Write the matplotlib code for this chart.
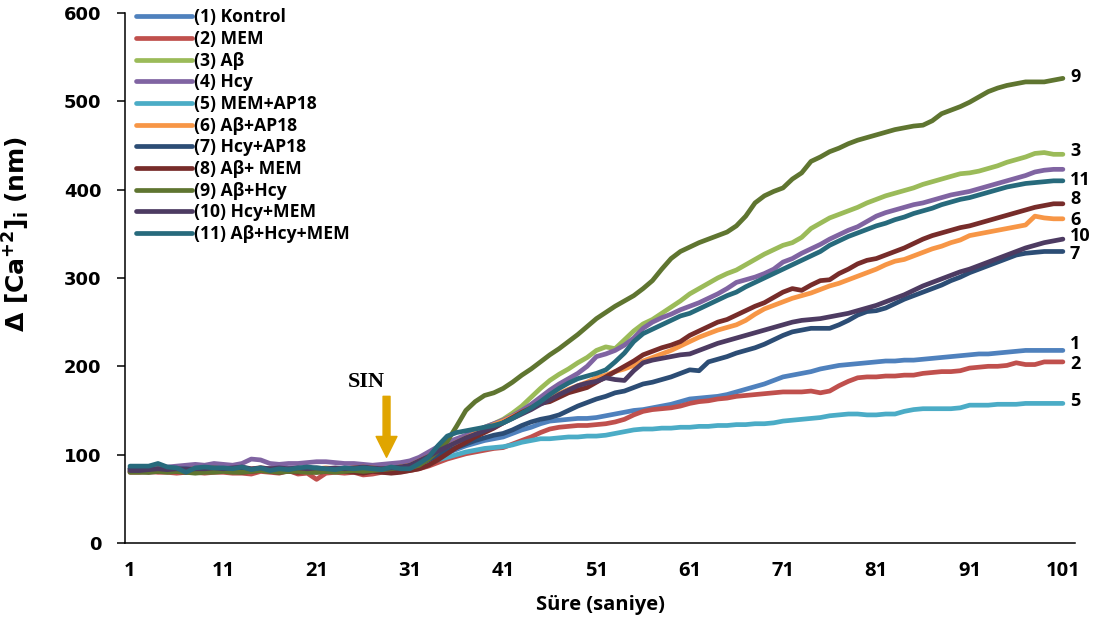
import numpy as np
import matplotlib
matplotlib.use('Agg')
import matplotlib.pyplot as plt

# time points (saniye), 1..101
x = np.arange(1, 102)

s1 = [84, 84, 84, 85, 84, 83, 84, 83, 84, 84,
      83, 84, 84, 83, 85, 84, 83, 84, 84, 83,
      84, 83, 84, 84, 85, 84, 83, 84, 85, 84,
      86, 88, 92, 97, 102, 106, 110, 113, 116, 118,
      120, 124, 128, 131, 135, 138, 139, 140, 141, 141,
      142, 144, 146, 148, 150, 151, 153, 155, 157, 160,
      163, 164, 165, 166, 168, 171, 174, 177, 180, 184,
      188, 190, 192, 194, 197, 199, 201, 202, 203, 204,
      205, 206, 206, 207, 207, 208, 209, 210, 211, 212,
      213, 214, 214, 215, 216, 217, 218, 218, 218, 218,
      218]
s2 = [80, 80, 81, 80, 80, 79, 80, 80, 79, 80,
      80, 79, 79, 78, 81, 80, 79, 82, 78, 79,
      72, 79, 80, 79, 80, 77, 78, 80, 80, 81,
      82, 84, 87, 91, 95, 98, 101, 103, 105, 107,
      108, 112, 116, 120, 125, 129, 131, 132, 133, 133,
      134, 135, 137, 140, 145, 149, 151, 152, 153, 155,
      158, 160, 161, 163, 164, 166, 167, 168, 169, 170,
      171, 171, 171, 172, 170, 172, 178, 183, 187, 188,
      188, 189, 189, 190, 190, 192, 193, 194, 194, 195,
      198, 199, 200, 200, 201, 204, 202, 202, 205, 205,
      205]
s3 = [82, 81, 82, 82, 81, 82, 81, 82, 81, 82,
      82, 81, 82, 83, 82, 81, 82, 83, 82, 82,
      82, 81, 82, 83, 82, 81, 82, 83, 84, 85,
      86, 89, 94, 100, 107, 114, 120, 126, 131, 135,
      140, 147, 155, 165, 175, 184, 191, 197, 204, 210,
      218, 222, 220, 230, 240, 248, 253, 260, 267, 274,
      282, 288, 294, 300, 305, 309, 315, 321, 327, 332,
      337, 340, 346, 356, 362, 368, 372, 376, 380, 385,
      389, 393, 396, 399, 402, 406, 409, 412, 415, 418,
      419, 421, 424, 427, 431, 434, 437, 441, 442, 440,
      440]
s4 = [85, 85, 85, 86, 86, 87, 88, 89, 88, 90,
      89, 88, 90, 95, 94, 90, 89, 90, 90, 91,
      92, 92, 91, 90, 90, 89, 88, 89, 90, 91,
      93, 97, 103, 109, 114, 118, 122, 127, 131, 135,
      139, 144, 150, 157, 165, 173, 180, 186, 192, 200,
      211, 214, 218, 224, 232, 243, 250, 255, 259, 264,
      268, 272, 277, 282, 288, 295, 298, 301, 305, 310,
      318, 322, 328, 333, 338, 344, 349, 354, 358, 364,
      370, 374, 377, 380, 383, 385, 388, 391, 394, 396,
      398, 401, 404, 407, 410, 413, 416, 420, 422, 423,
      423]
s5 = [83, 83, 83, 84, 83, 82, 83, 82, 83, 83,
      82, 82, 82, 82, 83, 82, 82, 82, 81, 82,
      82, 82, 83, 82, 82, 83, 82, 83, 84, 84,
      86, 88, 91, 94, 97, 100, 103, 105, 107, 108,
      109, 111, 114, 116, 118, 118, 119, 120, 120, 121,
      121, 122, 124, 126, 128, 129, 129, 130, 130, 131,
      131, 132, 132, 133, 133, 134, 134, 135, 135, 136,
      138, 139, 140, 141, 142, 144, 145, 146, 146, 145,
      145, 146, 146, 149, 151, 152, 152, 152, 152, 153,
      156, 156, 156, 157, 157, 157, 158, 158, 158, 158,
      158]
s6 = [84, 84, 83, 84, 85, 84, 83, 84, 84, 85,
      84, 83, 84, 84, 85, 84, 84, 83, 84, 84,
      84, 85, 84, 84, 85, 86, 85, 84, 85, 86,
      88, 93, 98, 104, 109, 114, 119, 124, 129, 134,
      138, 143, 148, 153, 158, 164, 169, 174, 178, 182,
      187, 190, 194, 197, 201, 206, 210, 214, 218, 223,
      228, 233, 237, 241, 244, 247, 252, 259, 265, 269,
      273, 277, 280, 283, 287, 291, 294, 298, 302, 306,
      310, 315, 319, 321, 325, 329, 333, 336, 340, 343,
      348, 350, 352, 354, 356, 358, 360, 370, 368, 367,
      367]
s7 = [84, 84, 83, 84, 83, 84, 84, 83, 84, 84,
      83, 84, 84, 83, 84, 84, 83, 84, 83, 84,
      84, 83, 84, 83, 84, 84, 83, 84, 84, 83,
      85, 89, 94, 99, 104, 108, 112, 116, 119, 122,
      124, 128, 133, 137, 140, 142, 145, 150, 155, 159,
      163, 166, 170, 172, 176, 180, 182, 185, 188, 192,
      196, 195, 205, 208, 211, 215, 218, 221, 225, 230,
      235, 239, 241, 243, 243, 243, 247, 252, 258, 262,
      263, 266, 271, 276, 280, 284, 288, 292, 297, 301,
      306, 310, 314, 318, 322, 326, 328, 329, 330, 330,
      330]
s8 = [81, 81, 80, 81, 82, 81, 80, 81, 82, 81,
      82, 81, 80, 81, 82, 81, 80, 81, 80, 81,
      80, 81, 82, 81, 80, 79, 81, 80, 79, 80,
      82, 84, 88, 94, 101, 108, 114, 120, 125, 130,
      136, 142, 148, 153, 158, 160, 165, 170, 173, 176,
      182, 188, 194, 200, 206, 213, 217, 221, 224, 228,
      235, 240, 245, 250, 253, 258, 263, 268, 272, 278,
      284, 288, 286, 292, 297, 298, 305, 310, 316, 320,
      322, 326, 330, 334, 339, 344, 348, 351, 354, 357,
      359, 362, 365, 368, 371, 374, 377, 380, 382, 384,
      384]
s9 = [80, 80, 80, 81, 80, 81, 80, 79, 80, 80,
      81, 80, 80, 81, 82, 81, 80, 81, 81, 80,
      80, 81, 80, 81, 82, 81, 82, 83, 84, 86,
      85, 88, 95, 104, 115, 132, 150, 160, 167, 170,
      175, 182, 190, 197, 205, 213, 220, 228, 236, 245,
      254, 261, 268, 274, 280, 288, 297, 310, 322, 330,
      335, 340, 344, 348, 352, 359, 370, 385, 393, 398,
      402, 412, 419, 432, 437, 443, 447, 452, 456, 459,
      462, 465, 468, 470, 472, 473, 478, 486, 490, 494,
      499, 505, 511, 515, 518, 520, 522, 522, 522, 524,
      526]
s10 = [82, 82, 83, 84, 83, 84, 83, 84, 84, 85,
       84, 85, 86, 84, 85, 84, 85, 84, 85, 84,
       85, 84, 85, 84, 85, 86, 85, 84, 85, 86,
       88, 93, 98, 104, 109, 114, 119, 123, 127, 131,
       136, 141, 146, 151, 157, 162, 168, 173, 178, 181,
       183, 187, 185, 184, 195, 204, 207, 209, 211, 213,
       214, 218, 222, 226, 229, 232, 235, 238, 241, 244,
       247, 250, 252, 253, 254, 256, 258, 260, 263, 266,
       269, 273, 277, 281, 286, 291, 295, 299, 303, 307,
       310, 314, 318, 322, 326, 330, 334, 337, 340, 342,
       344]
s11 = [87, 87, 87, 90, 86, 85, 80, 85, 86, 85,
       85, 84, 86, 83, 85, 82, 84, 83, 85, 86,
       85, 84, 83, 85, 84, 85, 84, 83, 86, 84,
       84, 90, 97, 110, 121, 125, 127, 129, 131, 133,
       136, 141, 147, 153, 160, 168, 175, 181, 186, 189,
       192, 196, 205, 215, 228, 237, 242, 247, 252, 257,
       260, 265, 270, 275, 280, 284, 290, 295, 300, 305,
       310, 315, 320, 325, 330, 337, 342, 347, 351, 355,
       359, 362, 366, 369, 373, 376, 379, 383, 386, 389,
       391, 394, 397, 400, 403, 405, 407, 408, 409, 410,
       410]

series = [s1, s2, s3, s4, s5, s6, s7, s8, s9, s10, s11]
names = ['(1) Kontrol', '(2) MEM', '(3) Aβ', '(4) Hcy', '(5) MEM+AP18',
         '(6) Aβ+AP18', '(7) Hcy+AP18', '(8) Aβ+ MEM', '(9) Aβ+Hcy',
         '(10) Hcy+MEM', '(11) Aβ+Hcy+MEM']
colors = ['#4F81BD', '#C0504D', '#9BBB59', '#8064A2', '#4BACC6', '#F79646',
          '#2C4D75', '#772C2A', '#5F7530', '#4D3B62', '#276A7C']

# numbers written at the right end of the curves
end_tags = ['9', '3', '11', '8', '6', '10', '7', '1', '2', '5']
end_tag_y = [528, 444, 411, 389, 366, 348, 327, 225, 203, 161]

plt.rcParams['font.family'] = ['Open Sans', 'DejaVu Sans']
plt.rcParams['mathtext.default'] = 'bf'

fig = plt.figure(figsize=(11.01, 6.28), dpi=100)
ax = fig.add_axes([0.1135, 0.1354, 0.8629, 0.8439])

for vals, name, col in zip(series, names, colors):
    ax.plot(x, vals, color=col, lw=3.4, label=name,
            solid_capstyle='round', solid_joinstyle='round')

ax.set_xlim(0.46, 102.3)
ax.set_ylim(0, 600)
ax.set_xticks(range(1, 102, 10))
ax.set_yticks(range(0, 601, 100))

for s in ['top', 'right']:
    ax.spines[s].set_visible(False)
for s in ['left', 'bottom']:
    ax.spines[s].set_linewidth(1.1)

ax.tick_params(axis='y', direction='out', length=6, width=1.1, pad=11)
ax.tick_params(axis='x', length=0, pad=13)
for lbl in ax.get_yticklabels():
    lbl.set_fontfamily('DejaVu Sans')
    lbl.set_fontweight('bold')
    lbl.set_fontsize(13)
for lbl in ax.get_xticklabels():
    lbl.set_fontweight('bold')
    lbl.set_fontsize(14.5)

ax.set_xlabel('Süre (saniye)', fontsize=14.5, fontweight='bold')
ax.xaxis.set_label_coords(0.5, -0.098)
ax.set_ylabel('Δ [Ca$^{+2}$]$_i$ (nm)', fontsize=18, fontweight='bold',
              family='DejaVu Sans')
ax.yaxis.set_label_coords(-0.098, 0.583)

ax.legend(loc='upper left', bbox_to_anchor=(0.004, 1.022), frameon=False,
          prop=dict(weight='bold', size=12.6), handlelength=3.2,
          handletextpad=0.15, labelspacing=0.21, borderaxespad=0)

for tag, ty in zip(end_tags, end_tag_y):
    ax.text(101.75, ty, tag, fontsize=13, fontweight='bold', ha='left',
            va='center', clip_on=False)

# stimulus marker
ax.annotate('', xy=(28.5, 97), xytext=(28.5, 166),
            arrowprops=dict(width=5, headwidth=15, headlength=15,
                            color='#E0A500', shrink=0))
ax.text(26.3, 182, 'SIN', fontsize=16, fontweight='bold',
        family='Liberation Serif', ha='center', va='center')

fig.savefig('out.png', dpi=100)
